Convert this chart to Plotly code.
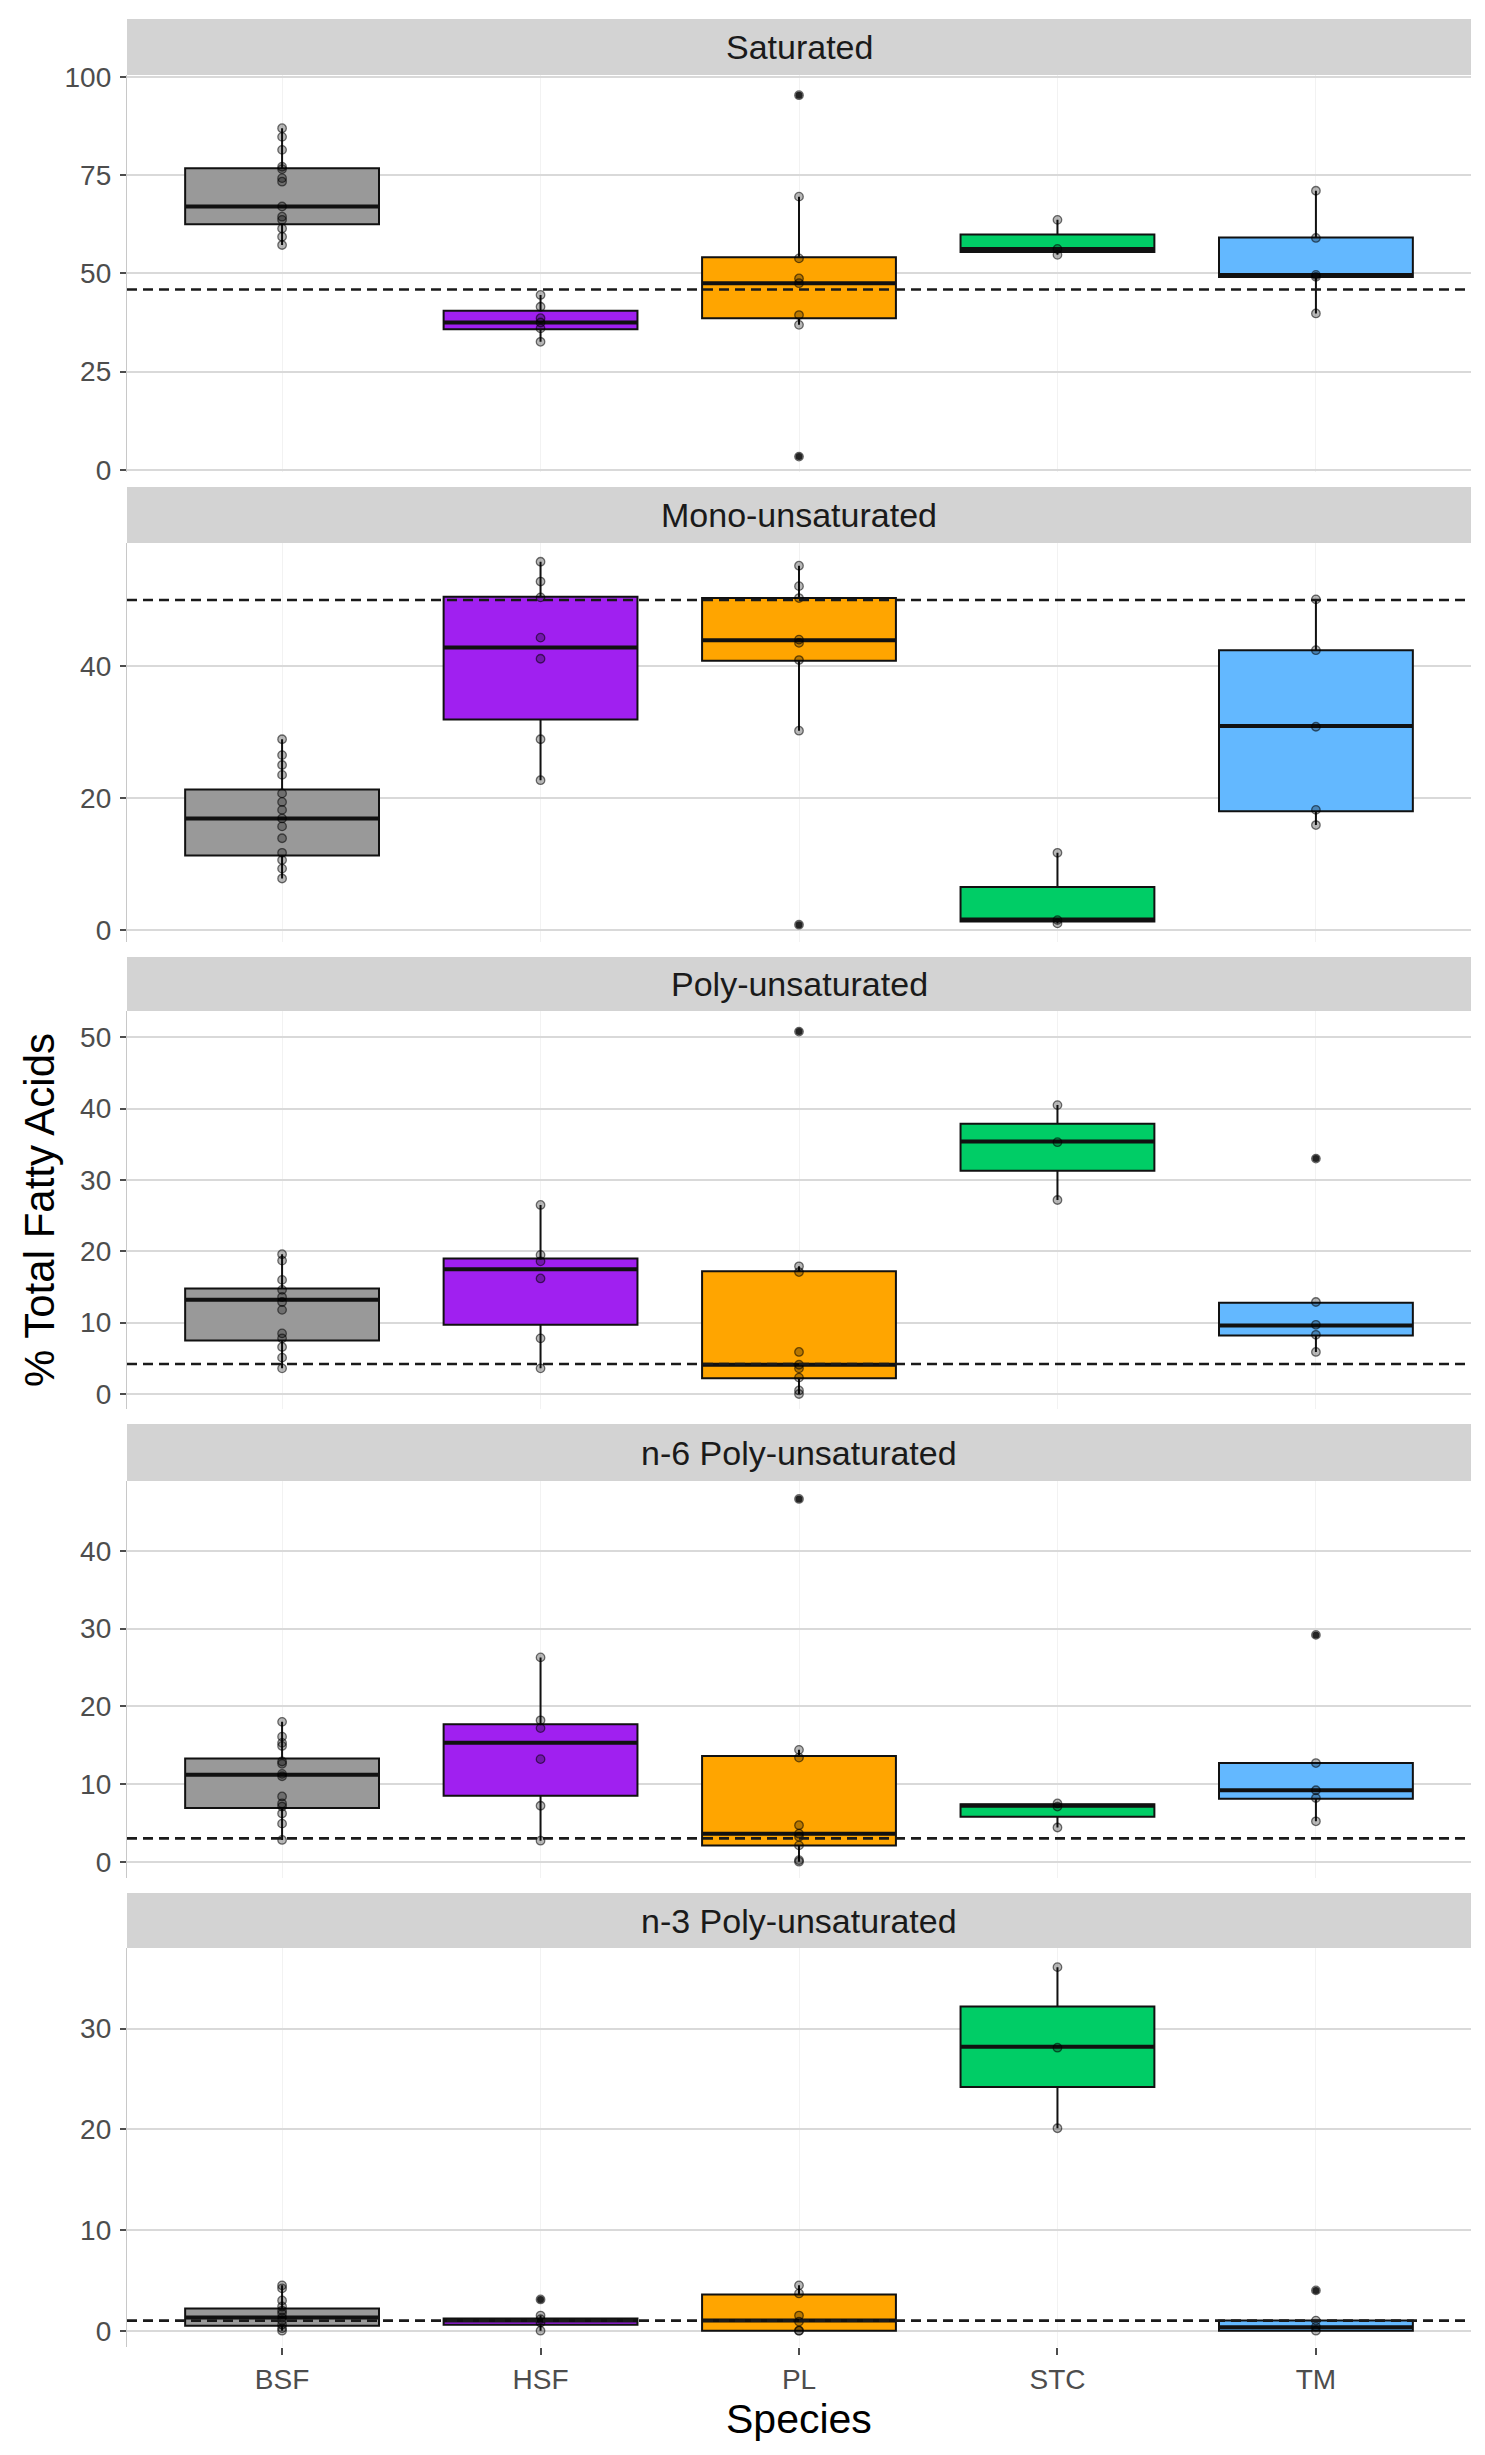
import plotly.graph_objects as go
from plotly.subplots import make_subplots

# ---------------- data ----------------
species = ["BSF", "HSF", "PL", "STC", "TM"]
colors = ["#999999", "#A020F0", "#FFA500", "#00CD66", "#63B8FF"]
panel_titles = ["Saturated", "Mono-unsaturated", "Poly-unsaturated",
                "n-6 Poly-unsaturated", "n-3 Poly-unsaturated"]
ref_lines = [45.9, 50.0, 4.2, 3.0, 1.0]

# Saturated
sat_q1 = [62.5, 35.8, 38.6, 55.4, 49.1]
sat_med = [67.0, 37.5, 47.5, 56.2, 49.6]
sat_q3 = [76.7, 40.5, 54.1, 59.9, 59.1]
sat_lo = [57.2, 32.6, 36.9, 54.7, 39.8]
sat_hi = [86.9, 44.5, 69.5, 63.6, 71.0]
sat_pts = [
    [86.9, 84.7, 81.4, 77.1, 76.5, 74.2, 73.3, 67.0, 64.4, 63.6, 61.4, 59.3, 57.2],
    [44.5, 41.5, 38.6, 37.5, 36.0, 32.6],
    [95.3, 69.5, 53.8, 48.7, 47.5, 39.4, 36.9, 3.4],
    [63.6, 56.2, 54.7],
    [71.0, 59.0, 49.6, 49.1, 39.8],
]

# Mono-unsaturated
mono_q1 = [11.3, 31.9, 40.8, 1.3, 18.0]
mono_med = [16.9, 42.8, 43.9, 1.6, 30.9]
mono_q3 = [21.3, 50.5, 50.3, 6.5, 42.4]
mono_lo = [7.8, 22.7, 30.2, 1.0, 15.9]
mono_hi = [28.9, 55.8, 55.2, 11.7, 50.1]
mono_pts = [
    [28.9, 26.5, 25.0, 23.5, 20.7, 19.4, 18.2, 16.9, 15.7, 13.9, 11.7, 10.6, 9.3, 7.8],
    [55.8, 52.8, 50.4, 44.3, 41.1, 28.9, 22.7],
    [55.2, 52.1, 50.3, 44.0, 43.5, 40.9, 30.2, 0.8],
    [11.7, 1.5, 1.0],
    [50.1, 42.4, 30.8, 18.2, 15.9],
]

# Poly-unsaturated
poly_q1 = [7.5, 9.7, 2.2, 31.3, 8.2]
poly_med = [13.2, 17.5, 4.1, 35.4, 9.6]
poly_q3 = [14.8, 19.0, 17.2, 37.9, 12.8]
poly_lo = [3.6, 3.6, 0.0, 27.2, 5.9]
poly_hi = [19.6, 26.5, 17.9, 40.5, 12.9]
poly_pts = [
    [19.6, 18.7, 16.0, 14.6, 13.6, 12.9, 11.8, 8.5, 7.8, 6.6, 5.1, 3.6],
    [26.5, 19.5, 18.6, 16.2, 7.8, 3.6],
    [50.8, 17.9, 17.1, 5.9, 4.1, 3.6, 2.3, 0.5, 0.0],
    [40.5, 35.3, 27.2],
    [33.0, 12.9, 9.7, 8.3, 5.9],
]

# n-6 Poly-unsaturated
n6_q1 = [6.9, 8.5, 2.1, 5.8, 8.1]
n6_med = [11.2, 15.3, 3.6, 7.2, 9.2]
n6_q3 = [13.3, 17.7, 13.6, 7.4, 12.7]
n6_lo = [2.8, 2.7, 0.0, 4.4, 5.2]
n6_hi = [18.0, 26.3, 14.4, 7.5, 12.7]
n6_pts = [
    [18.0, 16.1, 15.3, 14.9, 12.9, 12.6, 11.3, 11.0, 8.4, 7.5, 7.1, 6.2, 4.9, 2.8],
    [26.3, 18.2, 17.2, 13.2, 7.2, 2.7],
    [46.7, 14.4, 13.4, 4.7, 3.6, 3.2, 2.1, 0.2, 0.0],
    [7.5, 7.1, 4.4],
    [29.2, 12.7, 9.2, 8.2, 5.2],
]

# n-3 Poly-unsaturated
n3_q1 = [0.5, 0.6, 0.0, 24.2, 0.0]
n3_med = [1.3, 1.0, 1.0, 28.2, 0.35]
n3_q3 = [2.2, 1.2, 3.6, 32.2, 1.0]
n3_lo = [0.0, 0.0, 0.0, 20.1, 0.0]
n3_hi = [4.5, 1.5, 4.5, 36.1, 1.0]
n3_pts = [
    [4.5, 4.2, 3.0, 2.4, 2.0, 1.7, 1.3, 1.0, 0.6, 0.25, 0.0],
    [3.1, 1.5, 1.15, 0.8, 0.0],
    [4.5, 3.7, 1.5, 0.9, 0.0, 0.0],
    [36.1, 28.1, 20.1],
    [4.0, 1.0, 0.4, 0.0],
]

y_ticks = [[0, 25, 50, 75, 100], [0, 20, 40], [0, 10, 20, 30, 40, 50],
           [0, 10, 20, 30, 40], [0, 10, 20, 30]]

panels = [
    (sat_q1, sat_med, sat_q3, sat_lo, sat_hi, sat_pts),
    (mono_q1, mono_med, mono_q3, mono_lo, mono_hi, mono_pts),
    (poly_q1, poly_med, poly_q3, poly_lo, poly_hi, poly_pts),
    (n6_q1, n6_med, n6_q3, n6_lo, n6_hi, n6_pts),
    (n3_q1, n3_med, n3_q3, n3_lo, n3_hi, n3_pts),
]

# ---------------- layout geometry (pixels) ----------------
W, H = 1485, 2455
M_L, M_R, M_T, M_B = 127, 14, 19, 108
plot_px = [(75, 472), (543, 942), (1011, 1409), (1481, 1878), (1948, 2347)]
strip_px = [(19, 75), (487, 543), (957, 1011), (1424, 1481), (1893, 1948)]
y_ranges = [[-0.51, 100.43], [-1.82, 58.64], [-2.10, 53.69], [-2.10, 49.01], [-1.62, 38.0]]
inner_h = H - M_T - M_B
bottom_px = H - M_B


def fy(p):
    return (bottom_px - p) / inner_h


FONT = "Liberation Sans, Arial, sans-serif"
BOX_W = 0.75

fig = make_subplots(rows=5, cols=1)

for r, (q1, med, q3, lo, hi, pts) in enumerate(panels, start=1):
    for i, sp in enumerate(species):
        fig.add_trace(go.Box(
            x=[i], q1=[q1[i]], median=[med[i]], q3=[q3[i]],
            lowerfence=[lo[i]], upperfence=[hi[i]],
            fillcolor=colors[i], line=dict(color="#111111", width=2),
            width=BOX_W, whiskerwidth=0, boxpoints=False,
            showlegend=False, hoverinfo="skip", name=sp,
        ), row=r, col=1)
    # thicker median lines
    mx, my = [], []
    for i in range(len(species)):
        mx += [i - BOX_W / 2, i + BOX_W / 2, None]
        my += [med[i], med[i], None]
    fig.add_trace(go.Scatter(x=mx, y=my, mode="lines",
                             line=dict(color="#111111", width=4),
                             showlegend=False, hoverinfo="skip"), row=r, col=1)
    # outliers (outside whiskers)
    ox, oy = [], []
    for i in range(len(species)):
        for v in pts[i]:
            if v < lo[i] - 1e-9 or v > hi[i] + 1e-9:
                ox.append(i)
                oy.append(v)
    fig.add_trace(go.Scatter(x=ox, y=oy, mode="markers",
                             marker=dict(size=7, color="#333333"),
                             showlegend=False, hoverinfo="skip"), row=r, col=1)
    # all points
    px_, py_ = [], []
    for i in range(len(species)):
        px_ += [i] * len(pts[i])
        py_ += pts[i]
    fig.add_trace(go.Scatter(x=px_, y=py_, mode="markers",
                             marker=dict(size=8.5, color="rgba(0,0,0,0.28)",
                                         line=dict(color="rgba(0,0,0,0.55)", width=1.3)),
                             showlegend=False, hoverinfo="skip"), row=r, col=1)
    fig.add_hline(y=ref_lines[r - 1], row=r, col=1,
                  line=dict(color="#1a1a1a", width=2.6, dash="10px,6px"))

for r in range(1, 6):
    top, bot = plot_px[r - 1]
    xa = "xaxis" if r == 1 else f"xaxis{r}"
    ya = "yaxis" if r == 1 else f"yaxis{r}"
    fig.layout[xa].update(
        domain=[0, 1], range=[-0.6, len(species) - 0.4], automargin=False,
        tickvals=list(range(len(species))), ticktext=species,
        showticklabels=(r == 5), ticks="outside" if r == 5 else "",
        ticklen=7, tickwidth=1.5, tickcolor="#4D4D4D",
        showgrid=True, gridcolor="#F2F2F2", gridwidth=1,
        zeroline=False, showline=False,
        tickfont=dict(family=FONT, size=28, color="#4D4D4D"),
    )
    fig.layout[ya].update(
        domain=[fy(bot), fy(top)], range=y_ranges[r - 1], automargin=False,
        tickvals=y_ticks[r - 1], ticks="outside", ticklen=6, tickwidth=1.5,
        tickcolor="#4D4D4D", showgrid=True, gridcolor="#D9D9D9", gridwidth=1.5,
        zeroline=False, showline=True, linecolor="#C8C8C8", linewidth=1.3,
        tickfont=dict(family=FONT, size=28, color="#4D4D4D"),
        ticklabelstandoff=3,
    )
    s_top, s_bot = strip_px[r - 1]
    fig.add_shape(type="rect", xref="paper", yref="paper", x0=0, x1=1,
                  y0=fy(s_bot), y1=fy(s_top), fillcolor="#D3D3D3",
                  line=dict(width=0), layer="below")
    fig.add_annotation(text=panel_titles[r - 1], xref="paper", yref="paper",
                       x=0.5, y=fy((s_top + s_bot) / 2), showarrow=False,
                       xanchor="center", yanchor="middle",
                       font=dict(family=FONT, size=34, color="#1A1A1A"))

fig.add_annotation(text="% Total Fatty Acids", xref="paper", yref="paper",
                   x=(39 - M_L) / (W - M_L - M_R), y=fy(1210), textangle=-90,
                   showarrow=False, xanchor="center", yanchor="middle",
                   font=dict(family=FONT, size=42, color="#000000"))
fig.add_annotation(text="Species", xref="paper", yref="paper",
                   x=0.5, y=fy(2419), showarrow=False,
                   xanchor="center", yanchor="middle",
                   font=dict(family=FONT, size=41, color="#000000"))

fig.update_layout(
    width=W, height=H,
    margin=dict(l=M_L, r=M_R, t=M_T, b=M_B, autoexpand=False),
    plot_bgcolor="white", paper_bgcolor="white",
    showlegend=False,
    font=dict(family=FONT),
)

fig.write_html("out.html", config={"displayModeBar": False},
               post_script="document.body.style.margin='0px';document.body.style.padding='0px';")
